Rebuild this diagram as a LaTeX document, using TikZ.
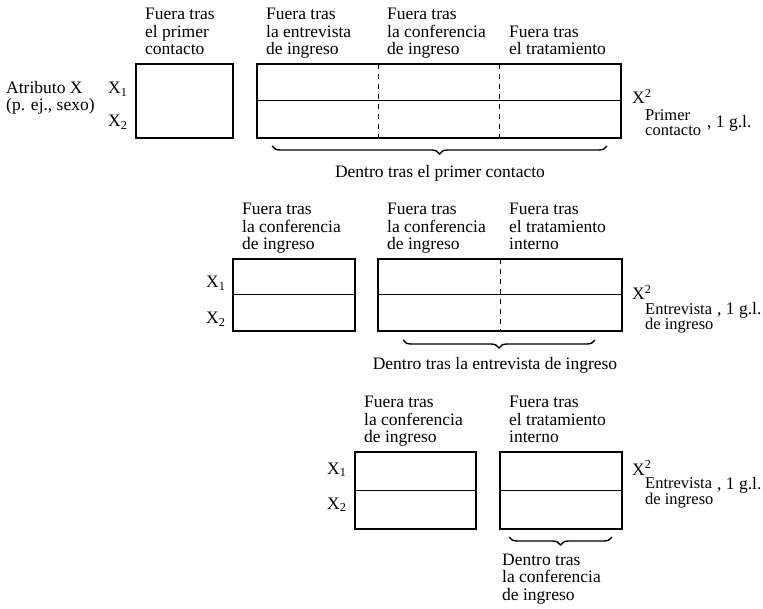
\documentclass[tikz,border=0pt]{standalone}
\usepackage{fontspec}
\setmainfont{Liberation Serif}
\usetikzlibrary{calc,decorations.pathreplacing}
\begin{document}
\begin{tikzpicture}[x=1pt,y=-1pt]
	\tikzstyle{txt}=[inner sep=0pt,align=left,font=\fontsize{17.5}{17.5}\selectfont]
	\tikzstyle{head}=[txt,anchor=south west,execute at end node=\strut]
	\tikzstyle{lab}=[txt,anchor=base west]
	\tikzstyle{sub}=[lab,font=\fontsize{16.5}{15.5}\selectfont]
	\tikzstyle{tab}=[draw,line width=1.2pt,anchor=north west,inner sep=0pt,outer sep=0pt]
	\tikzstyle{split}=[line width=1pt]
	\tikzstyle{cut}=[line width=0.9pt,dash pattern=on 5pt off 5pt]
	\tikzstyle{curly}=[line width=1.4pt,decorate,decoration={brace,mirror,amplitude=8pt}]
	\useasboundingbox (0,0) rectangle (763,609);
	% first contact
	\node[txt,anchor=west] (attr) at (6,98) {Atributo X\\(p. ej., sexo)};
	\node[tab,minimum width=97pt,minimum height=74pt] (t_1) at (136,64) {};
	\node[tab,minimum width=364pt,minimum height=74pt] (t_2) at (257,64) {};
	\draw[split] (t_2.west) -- (t_2.east);
	\draw[cut] ($(t_2.north west)!1/3!(t_2.north east)$) -- ($(t_2.south west)!1/3!(t_2.south east)$);
	\draw[cut] ($(t_2.north west)!2/3!(t_2.north east)$) -- ($(t_2.south west)!2/3!(t_2.south east)$);
	\node[head] (h_1) at (145,60) {Fuera tras\\el primer\\contacto};
	\node[head] (h_2) at (266,60) {Fuera tras\\la entrevista\\de ingreso};
	\node[head] (h_3) at (387,60) {Fuera tras\\la conferencia\\de ingreso};
	\node[head] (h_4) at (509,60) {Fuera tras\\el tratamiento};
	\node[lab] (x_1) at (108,94) {X\textsubscript{1}};
	\node[lab] (x_2) at (108,127) {X\textsubscript{2}};
	\draw[curly] ($(t_2.south west)+(15,8)$) -- ($(t_2.south east)+(-14,8)$);
	\node[txt,anchor=base] (d_1) at (440,178) {Dentro tras el primer contacto};
	\node[lab] (q_1) at (632,104) {X\textsuperscript{2}};
	\node[sub] (s_1) at (645,136) {Primer\\contacto};
	\node[lab] (g_1) at (707,128) {, 1 g.l.};
	% intake interview
	\node[tab,minimum width=122pt,minimum height=72pt] (t_3) at (233,259) {};
	\node[tab,minimum width=244pt,minimum height=72pt] (t_4) at (378,259) {};
	\draw[split] (t_3.west) -- (t_3.east);
	\draw[split] (t_4.west) -- (t_4.east);
	\draw[cut] (t_4.north) -- (t_4.south);
	\node[head] (h_5) at (242,255) {Fuera tras\\la conferencia\\de ingreso};
	\node[head] (h_6) at (387,255) {Fuera tras\\la conferencia\\de ingreso};
	\node[head] (h_7) at (509,255) {Fuera tras\\el tratamiento\\interno};
	\node[lab] (x_3) at (206,288) {X\textsubscript{1}};
	\node[lab] (x_4) at (206,324) {X\textsubscript{2}};
	\draw[curly] ($(t_4.south west)+(25,9)$) -- ($(t_4.south east)+(-27,9)$);
	\node[txt,anchor=base] (d_2) at (495,370) {Dentro tras la entrevista de ingreso};
	\node[lab] (q_2) at (632,300) {X\textsuperscript{2}};
	\node[sub] (s_2) at (645,330) {Entrevista\\de ingreso};
	\node[lab] (g_2) at (717,315) {, 1 g.l.};
	% intake conference
	\node[tab,minimum width=121pt,minimum height=77pt] (t_5) at (355,452) {};
	\node[tab,minimum width=122pt,minimum height=77pt] (t_6) at (500,452) {};
	\draw[split] (t_5.west) -- (t_5.east);
	\draw[split] (t_6.west) -- (t_6.east);
	\node[head] (h_8) at (364,448) {Fuera tras\\la conferencia\\de ingreso};
	\node[head] (h_9) at (509,448) {Fuera tras\\el tratamiento\\interno};
	\node[lab] (x_5) at (327,474) {X\textsubscript{1}};
	\node[lab] (x_6) at (327,509) {X\textsubscript{2}};
	\draw[curly] ($(t_6.south west)+(9,8)$) -- ($(t_6.south east)+(-10,8)$);
	\node[lab] (d_3) at (502,600) {Dentro tras\\la conferencia\\de ingreso};
	\node[lab] (q_3) at (632,475) {X\textsuperscript{2}};
	\node[sub] (s_3) at (645,504) {Entrevista\\de ingreso};
	\node[lab] (g_3) at (717,489) {, 1 g.l.};
\end{tikzpicture}
\end{document}
